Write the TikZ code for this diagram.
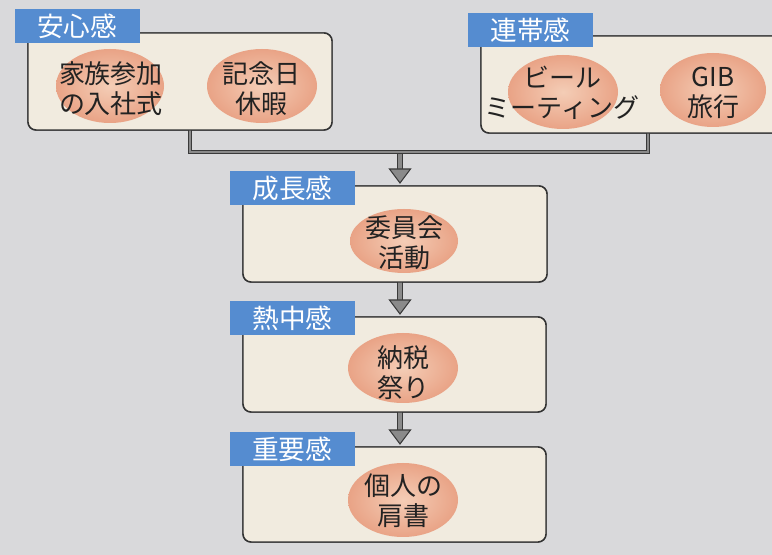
\documentclass[tikz,border=0pt]{standalone}
\usepackage{fontspec}
\setmainfont{Noto Sans CJK JP}
\usetikzlibrary{calc,shapes.geometric}
\definecolor{bg}{HTML}{D9D9DB}
\definecolor{boxfill}{HTML}{F1EBDF}
\definecolor{boxline}{HTML}{333333}
\definecolor{lblblue}{HTML}{558CD0}
\definecolor{ellin}{HTML}{F4CDB6}
\definecolor{ellout}{HTML}{E9A386}
\definecolor{cdark}{HTML}{3A3A3A}
\definecolor{cgray}{HTML}{8A8A8A}
\definecolor{txt}{HTML}{222222}
\begin{document}
\begin{tikzpicture}[x=0.75pt,y=-0.75pt,
  box/.style={draw=boxline, line width=1.1pt, fill=boxfill, rounded corners=6pt, inner sep=0pt, outer sep=0pt},
  lbl/.style={fill=lblblue, text=white, minimum width=93.75pt, minimum height=25.5pt, inner sep=0pt, outer sep=0pt, font=\fontsize{20}{22}\selectfont},
  ell/.style={ellipse, inner sep=0pt, outer sep=0pt, shade, inner color=ellin, outer color=ellout},
  txtnode/.style={align=center, inner sep=0pt, text=txt, font=\fontsize{19.5}{22.5}\selectfont},
  conn/.style={draw=cdark, double=cgray, line width=0.8pt, double distance=1.9pt},
  arrstem/.style={draw=cdark, double=cgray, line width=0.8pt, double distance=2.8pt},
  arrhead/.style={fill=cgray, draw=cdark, line width=0.8pt, line join=miter}
]
\clip (0,0) rectangle (772,555);
\fill[bg] (0,0) rectangle (772,555);

% boxes (positioned first to allow connectors underneath)
\path (180,81.5) node[box, minimum width=228pt, minimum height=72.75pt] (b1) {};
\path (635.5,84.5) node[box, minimum width=231.75pt, minimum height=72.75pt] (b2) {};
\path (395,234) node[box, minimum width=228pt, minimum height=72pt] (b3) {};
\path (394.5,364.5) node[box, minimum width=227.25pt, minimum height=71.25pt] (b4) {};
\path (394.5,494.5) node[box, minimum width=227.25pt, minimum height=71.25pt] (b5) {};

% connectors
\coordinate (j) at (400,152);
\coordinate (c1) at ([xshift=7.5pt]b1.south);
\coordinate (c2) at ([xshift=9.375pt]b2.south);
\draw[arrstem] (j) -- ($(b3.north -| j)+(0,-17)$);
\filldraw[arrhead] ($(b3.north -| j)+(-10.5,-17)$) -- ($(b3.north -| j)+(10.5,-17)$) -- ($(b3.north -| j)+(0,-3)$) -- cycle;
\draw[conn] (c1) |- (c2 |- j) -- (c2);
\draw[arrstem] (b3.south -| j) -- ($(b4.north -| j)+(0,-17)$);
\filldraw[arrhead] ($(b4.north -| j)+(-10.5,-17)$) -- ($(b4.north -| j)+(10.5,-17)$) -- ($(b4.north -| j)+(0,-3)$) -- cycle;
\draw[arrstem] (b4.south -| j) -- ($(b5.north -| j)+(0,-17)$);
\filldraw[arrhead] ($(b5.north -| j)+(-10.5,-17)$) -- ($(b5.north -| j)+(10.5,-17)$) -- ($(b5.north -| j)+(0,-3)$) -- cycle;

% redraw boxes on top of connector ends
\path (180,81.5) node[box, minimum width=228pt, minimum height=72.75pt] {};
\path (635.5,84.5) node[box, minimum width=231.75pt, minimum height=72.75pt] {};
\path (395,234) node[box, minimum width=228pt, minimum height=72pt] {};
\path (394.5,364.5) node[box, minimum width=227.25pt, minimum height=71.25pt] {};
\path (394.5,494.5) node[box, minimum width=227.25pt, minimum height=71.25pt] {};

% ellipses
\node[ell, minimum width=81pt, minimum height=55.5pt] (e1) at (110,86) {};
\node[ell, minimum width=82.5pt, minimum height=55.5pt] (e2) at (262,86) {};
\node[ell, minimum width=82.5pt, minimum height=55.5pt] (e3) at (563,92) {};
\node[ell, minimum width=79.5pt, minimum height=55.5pt] (e4) at (713,90) {};
\node[ell, minimum width=81pt, minimum height=48pt] (e5) at (404,241) {};
\node[ell, minimum width=82.5pt, minimum height=52.5pt] (e6) at (403,368) {};
\node[ell, minimum width=82.5pt, minimum height=55.5pt] (e7) at (403,500) {};

% texts
\node[txtnode] (t1) at (111,89) {家族参加\\の入社式};
\node[txtnode] (t2) at (261,89) {記念日\\休暇};
\node[txtnode] (t3) at (562,93) {ビール\\ミーティング};
\node[txtnode] (t4) at (713,93) {GIB\\旅行};
\node[txtnode] (t5) at (404,243) {委員会\\活動};
\node[txtnode] (t6) at (403,373) {納税\\祭り};
\node[txtnode] (t7) at (403,501) {個人の\\肩書};

% labels
\node[lbl] (l1) at (77,26) {安心感};
\node[lbl] (l2) at (530.5,30) {連帯感};
\node[lbl] (l3) at (292.5,188.5) {成長感};
\node[lbl] (l4) at (292.5,318.5) {熱中感};
\node[lbl] (l5) at (292,449) {重要感};
\end{tikzpicture}
\end{document}
